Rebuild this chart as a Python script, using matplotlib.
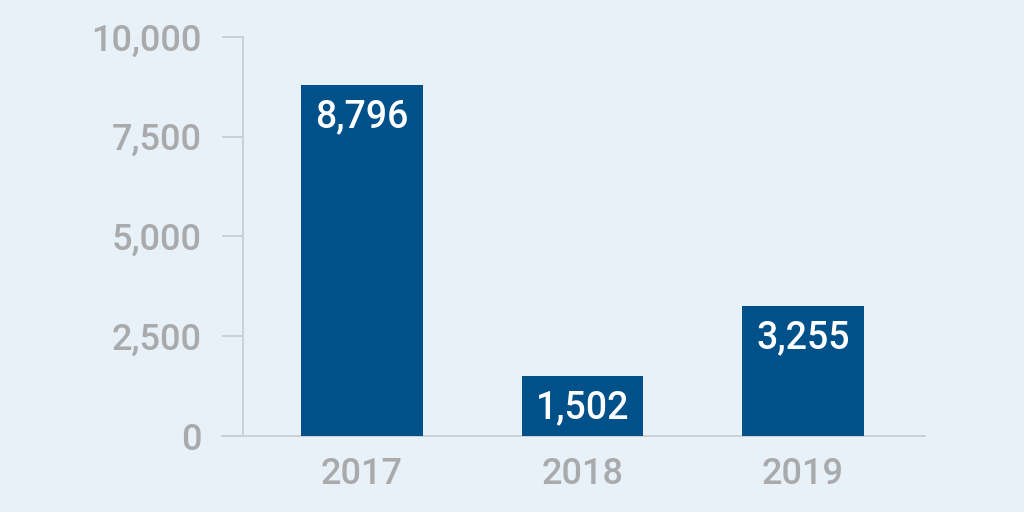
import matplotlib
matplotlib.use("Agg")
import matplotlib.pyplot as plt
from matplotlib.ticker import FuncFormatter

years = ["2017", "2018", "2019"]
values = [8796, 1502, 3255]
yticks = [0, 2500, 5000, 7500, 10000]

bg = "#E8F0F8"
bar_color = "#00508A"
gray = "#A9AAAC"
line_c = "#C9CED3"

plt.rcParams['font.family'] = ['Roboto', 'DejaVu Sans']

fig = plt.figure(figsize=(10.24, 5.12), dpi=100, facecolor=bg)
ax = fig.add_axes([243/1024, 1-436/512, (925-243)/1024, (436-37)/512])
ax.set_facecolor(bg)

x = list(range(len(years)))
bars = ax.bar(x, values, width=0.55, color=bar_color, zorder=3)

ax.set_xlim(-0.54, 2.553)
ax.set_ylim(0, 10000)
ax.set_yticks(yticks)
ax.yaxis.set_major_formatter(FuncFormatter(lambda v, p: f"{int(v):,}"))
ax.set_xticks(x)
ax.set_xticklabels(years)

for s in ["top", "right"]:
    ax.spines[s].set_visible(False)
for s in ["left", "bottom"]:
    ax.spines[s].set_color(line_c)
    ax.spines[s].set_linewidth(1.3)

ax.tick_params(axis='y', length=15, width=1.3, color=line_c, pad=15,
               labelsize=26, labelcolor=gray)
ax.tick_params(axis='x', length=0, pad=15, labelsize=26, labelcolor=gray)
for lab in ax.get_xticklabels() + ax.get_yticklabels():
    lab.set_fontweight('medium')

# extend baseline left to match the 0 tick
ax.plot([-0.54 - 21/220.5, -0.54], [0, 0], color=line_c, lw=1.3, clip_on=False, zorder=4)

for xi, v in zip(x, values):
    ax.annotate(f"{v:,}", (xi, v), xytext=(0, -23), textcoords='offset points',
                ha='center', va='center', color='white', fontsize=27,
                fontweight='medium', zorder=5)

fig.savefig("out.png", dpi=100, facecolor=bg)
